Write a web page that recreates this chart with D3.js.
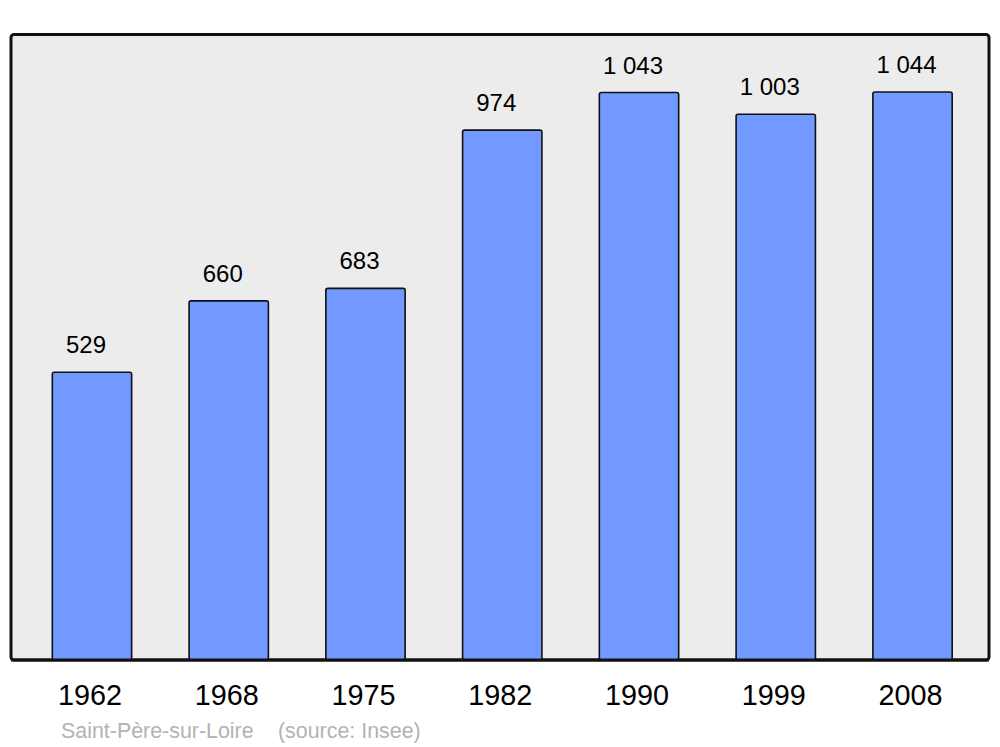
<!DOCTYPE html>
<html>
<head>
<meta charset="utf-8">
<script src="https://cdn.jsdelivr.net/npm/d3@7"></script>
<style>
  body { margin: 0; background: #fff; }
  text { font-family: "Liberation Sans", Arial, sans-serif; }
</style>
</head>
<body>
<script>
// population by census year
var years = ["1962", "1968", "1975", "1982", "1990", "1999", "2008"];
var population = [529, 660, 683, 974, 1043, 1003, 1044];
var commune = "Saint-Père-sur-Loire";
var source = "(source: Insee)";

var width = 1000
var height = 747

var svg = d3.select("body").append("svg")
    .attr("width", width)
    .attr("height", height);

// background panel
svg.append("rect")
    .attr("x", 11)
    .attr("y", 34.5)
    .attr("width", 978)
    .attr("height", 625.5)
    .attr("rx", 3)
    .attr("fill", "#ececec")
    .attr("stroke", "#111")
    .attr("stroke-width", 3);

// scales
var x = d3.scaleBand()
    .domain(years)
    .range([23.6, 980.9])
    .paddingInner(0.42)
    .paddingOuter(0.21);
var y = d3.scaleLinear()
    .domain([0, 1044])
    .range([660, 92]);

// bars
svg.selectAll(".bar")
    .data(population)
  .enter().append("rect")
    .attr("class", "bar")
    .attr("x", function(d, i) { return x(years[i]); })
    .attr("y", function(d) { return y(d); })
    .attr("width", x.bandwidth())
    .attr("height", function(d) { return 660 - y(d); })
    .attr("rx", 2)
    .attr("fill", "#7299ff")
    .attr("stroke", "#111")
    .attr("stroke-width", 1.6);

// redraw bottom edge of panel over bars
svg.append("line")
    .attr("x1", 11).attr("x2", 989)
    .attr("y1", 660).attr("y2", 660)
    .attr("stroke", "#111")
    .attr("stroke-width", 3);

// value labels, thousands separated by a space
var fmt = function(v) { return v >= 1000 ? Math.floor(v / 1000) + " " + String(v % 1000).padStart(3, "0") : String(v); };
svg.selectAll(".val")
    .data(population)
  .enter().append("text")
    .attr("class", "val")
    .attr("x", function(d, i) { return x(years[i]) + x.bandwidth() / 2 - 6; })
    .attr("y", function(d) { return y(d) - 19; })
    .attr("text-anchor", "middle")
    .attr("font-size", 24)
    .attr("fill", "#000")
    .text(fmt);

// year labels
svg.selectAll(".year")
    .data(years)
  .enter().append("text")
    .attr("class", "year")
    .attr("x", function(d) { return x(d) + x.bandwidth() / 2 - 2; })
    .attr("y", 705)
    .attr("text-anchor", "middle")
    .attr("font-size", 28.8)
    .attr("fill", "#000")
    .text(function(d) { return d; });

// source line
svg.append("text")
    .attr("x", 61)
    .attr("y", 738)
    .attr("font-size", 21.4)
    .attr("fill", "#b3b3b3")
    .text(commune);
svg.append("text")
    .attr("x", 278)
    .attr("y", 738)
    .attr("font-size", 21.4)
    .attr("fill", "#b3b3b3")
    .text(source);
</script>
</body>
</html>
